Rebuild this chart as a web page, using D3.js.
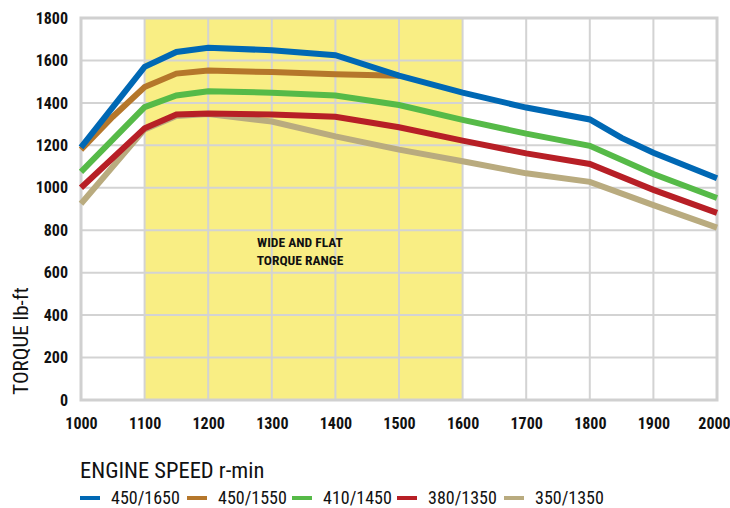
<!DOCTYPE html>
<html><head><meta charset="utf-8">
<script src="https://cdn.jsdelivr.net/npm/d3@7"></script>
<style>
body{margin:0;background:#fff;}
svg text{font-family:"Liberation Sans Narrow","Roboto Condensed","DejaVu Sans Condensed",sans-serif;}
</style></head><body>
<svg id="c" width="730" height="508"></svg>
<script>
const xTicks = [1000,1100,1200,1300,1400,1500,1600,1700,1800,1900,2000];
const yTicks = [0,200,400,600,800,1000,1200,1400,1600,1800];
const seriesNames = ["450/1650","450/1550","410/1450","380/1350","350/1350"];
const seriesColors = ["#0068b4","#b5772b","#56ba48","#b71f26","#b9ab7f"];
const s450_1650 = [[1000,1190],[1100,1570],[1150,1640],[1200,1660],[1300,1648],[1400,1625],[1500,1528],[1600,1448],[1700,1378],[1800,1322],[1850,1235],[1900,1165],[2000,1045]];
const s450_1550 = [[1000,1180],[1050,1335],[1100,1475],[1150,1538],[1200,1553],[1300,1545],[1400,1535],[1500,1528]];
const s410_1450 = [[1000,1075],[1100,1380],[1150,1435],[1200,1455],[1300,1448],[1400,1435],[1500,1390],[1600,1320],[1700,1255],[1800,1198],[1900,1065],[2000,952]];
const s380_1350 = [[1000,1000],[1100,1280],[1150,1345],[1200,1350],[1300,1345],[1400,1335],[1500,1285],[1600,1222],[1700,1162],[1800,1112],[1900,990],[2000,882]];
const s350_1350 = [[1000,925],[1100,1275],[1150,1338],[1200,1348],[1300,1312],[1400,1242],[1500,1180],[1600,1125],[1700,1068],[1800,1028],[1900,918],[2000,812]];
const seriesData = [s450_1650,s450_1550,s410_1450,s380_1350,s350_1350];
const bandRange = [1100,1600];
const bandLabel = ["WIDE AND FLAT","TORQUE RANGE"];

const svg = d3.select("#c");
const x = d3.scaleLinear().domain([1000,2000]).range([81,717]);
const y = d3.scaleLinear().domain([0,1800]).range([400,18]);

// band
svg.append("rect").attr("x",x(bandRange[0])).attr("y",y(1800)).attr("width",x(bandRange[1])-x(bandRange[0])).attr("height",y(0)-y(1800)).attr("fill","#f9ee84");

// grid
const grid = svg.append("g").attr("stroke","#d3d3d3").attr("stroke-width",2);
grid.selectAll(".v").data(xTicks).join("line").attr("x1",d=>x(d)).attr("x2",d=>x(d)).attr("y1",y(1800)).attr("y2",y(0));
grid.selectAll(".h").data(yTicks).join("line").attr("y1",d=>y(d)).attr("y2",d=>y(d)).attr("x1",x(1000)).attr("x2",x(2000));
svg.append("rect").attr("x",x(1000)).attr("y",y(1800)).attr("width",x(2000)-x(1000)).attr("height",y(0)-y(1800)).attr("fill","none").attr("stroke","#d0d0d0").attr("stroke-width",3);

// axes
const yAxis = d3.axisLeft(y).tickValues(yTicks).tickSize(0).tickPadding(13).tickFormat(d3.format("d"));
const ya = svg.append("g").attr("transform",`translate(${x(1000)},0)`).call(yAxis);
ya.select(".domain").remove();
ya.selectAll("text").attr("font-size",16).attr("font-weight","bold").attr("fill","#111");
const xAxis = d3.axisBottom(x).tickValues(xTicks).tickSize(0).tickPadding(18).tickFormat(d3.format("d"));
const xa = svg.append("g").attr("transform",`translate(0,${y(0)})`).call(xAxis);
xa.select(".domain").remove();
xa.selectAll("text").attr("font-size",16).attr("font-weight","bold").attr("fill","#111")
  .attr("dx",d=>d===2000?-3:0);

// annotation (centred in the band's left part)
const annX = 300;
svg.append("text").attr("x",annX).attr("y",247).attr("text-anchor","middle").attr("font-size",13.5).attr("font-weight","bold").attr("fill","#111").text(bandLabel[0]);
svg.append("text").attr("x",annX).attr("y",265).attr("text-anchor","middle").attr("font-size",13.5).attr("font-weight","bold").attr("fill","#111").text(bandLabel[1]);

// lines
const line = d3.line().x(d=>x(d[0])).y(d=>y(d[1]));
const order = [4,3,2,1,0];
order.forEach(i=>{
  svg.append("path").datum(seriesData[i]).attr("d",line).attr("fill","none").attr("stroke",seriesColors[i]).attr("stroke-width",6).attr("stroke-linejoin","miter");
});

// axis titles
svg.append("text").attr("transform","translate(28,341) rotate(-90)").attr("text-anchor","middle").attr("font-size",21).attr("fill","#111").text("TORQUE lb-ft");
svg.append("text").attr("x",80).attr("y",478).attr("font-size",22.5).attr("fill","#111").text("ENGINE SPEED r-min");

// legend
const legX = [80,187,292,397,504];
seriesNames.forEach((n,i)=>{
  svg.append("line").attr("x1",legX[i]).attr("x2",legX[i]+20).attr("y1",498).attr("y2",498).attr("stroke",seriesColors[i]).attr("stroke-width",4);
  svg.append("text").attr("x",legX[i]+31).attr("y",504).attr("font-size",18).attr("fill","#111").text(n);
});
</script>
</body></html>
